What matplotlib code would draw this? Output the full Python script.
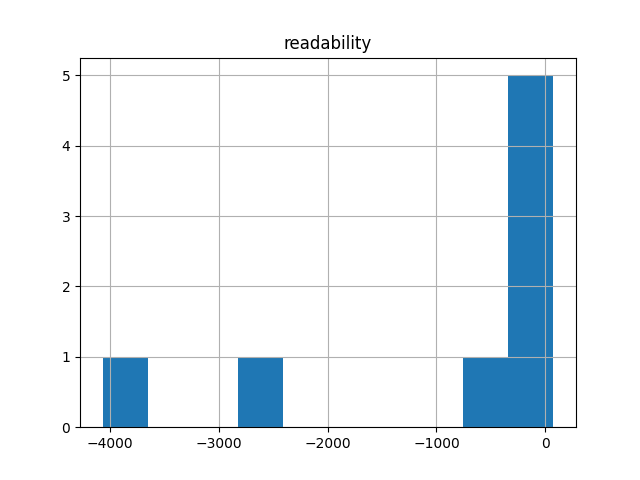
import matplotlib
matplotlib.use("Agg")
import matplotlib.pyplot as plt
import pandas as pd

# readability scores (8 documents)
readability = [-4065, -2700, -500, -120, -50, 10, 30, 74]

df = pd.DataFrame({'readability': readability})

fig = plt.figure(figsize=(6.4, 4.8), dpi=100)
ax = fig.add_subplot(111)
df.hist(column='readability', bins=10, ax=ax)

plt.savefig('out.png')
